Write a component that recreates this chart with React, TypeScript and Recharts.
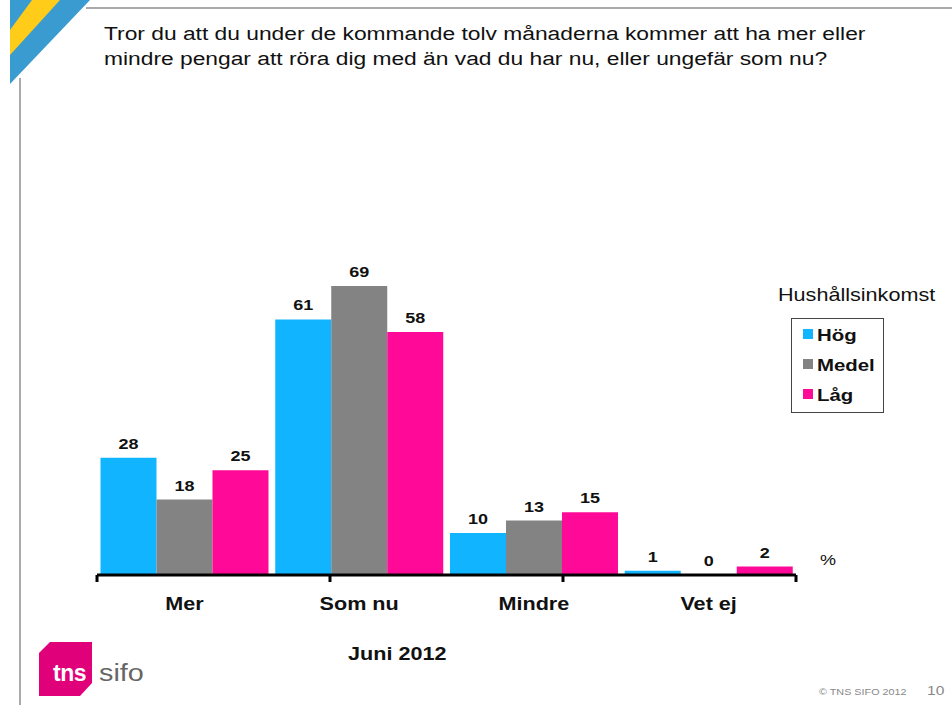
import { BarChart, Bar, XAxis, YAxis, LabelList, Legend } from "recharts";

const categories = ["Mer", "Som nu", "Mindre", "Vet ej"];
const hog = [28, 61, 10, 1];
const medel = [18, 69, 13, 0];
const lag = [25, 58, 15, 2];
const edgeTicks = [0, 1, 2, 3, 4];

const seriesInfo = [
  { key: "hog", name: "Hög", color: "#10B4FF" },
  { key: "medel", name: "Medel", color: "#838383" },
  { key: "lag", name: "Låg", color: "#FF0A98" },
];

const data = categories.map((c, i) => ({
  name: c,
  hog: hog[i],
  medel: medel[i],
  lag: lag[i],
}));

const font = "'Liberation Sans', Arial, sans-serif";
// the original slide is stretched sideways, so all text is too
const SX = 1.2;

const Stretched = ({ x, y, size, bold, fill = "#111", anchor = "start", children }: any) => (
  <text
    transform={`translate(${x},${y}) scale(${SX},1)`}
    fontSize={size}
    fontWeight={bold ? "bold" : "normal"}
    fill={fill}
    textAnchor={anchor}
    fontFamily={font}
  >
    {children}
  </text>
);

const CatTick = ({ x, y, payload }: any) => (
  <Stretched x={x} y={y + 34} size={18} bold anchor="middle">
    {payload.value}
  </Stretched>
);

const NoTick = () => <g />;

const ValueLabel = ({ x, y, width, value }: any) => (
  <Stretched x={x + width / 2} y={y - 9} size={15} bold anchor="middle">
    {value}
  </Stretched>
);

const LegendBox = () => (
  <svg width={160} height={130} style={{ overflow: "visible" }}>
    <Stretched x={-13} y={-17} size={18}>
      Hushållsinkomst
    </Stretched>
    <rect x={0.5} y={0.5} width={92} height={94} fill="none" stroke="#444" />
    {seriesInfo.map((s, i) => (
      <g key={s.key}>
        <rect x={12} y={11 + i * 30} width={10} height={10} fill={s.color} />
        <Stretched x={26} y={23 + i * 30} size={17} bold>
          {s.name}
        </Stretched>
      </g>
    ))}
  </svg>
);

const App = () => {
  return (
    <div
      style={{
        position: "absolute",
        left: 0,
        top: 0,
        width: 952,
        height: 705,
        background: "#fff",
        fontFamily: font,
        overflow: "hidden",
      }}
    >
      <svg
        width={952}
        height={705}
        style={{ position: "absolute", left: 0, top: 0 }}
      >
        <line x1={86} y1={8} x2={952} y2={8} stroke="#aaa" strokeWidth={2} />
        <line x1={20} y1={78} x2={20} y2={705} stroke="#aaa" strokeWidth={2} />
        <polygon points="10,0 90,0 10,84" fill="#3A9BD0" />
        <polygon points="32,0 60,0 10,55 10,30" fill="#FFCC1A" />
        <Stretched x={104} y={40} size={19}>
          Tror du att du under de kommande tolv månaderna kommer att ha mer eller
        </Stretched>
        <Stretched x={104} y={65} size={19}>
          mindre pengar att röra dig med än vad du har nu, eller ungefär som nu?
        </Stretched>
        <Stretched x={820} y={565} size={15}>
          %
        </Stretched>
        <Stretched x={348} y={660} size={18} bold>
          Juni 2012
        </Stretched>
        <polygon
          points="50,642 92,642 92,683 80,696 39,696 39,653"
          fill="#E0007A"
        />
        <text x={53} y={681} fontSize={23} fontWeight="bold" fill="#fff" fontFamily={font} letterSpacing={-0.5}>
          tns
        </text>
        <Stretched x={99} y={681} size={24} fill="#666">
          sifo
        </Stretched>
        <Stretched x={819} y={695} size={9} fill="#888">
          © TNS SIFO 2012
        </Stretched>
        <Stretched x={927} y={695} size={13} fill="#888">
          10
        </Stretched>
      </svg>
      <BarChart
        width={952}
        height={705}
        data={data}
        margin={{ top: 156, right: 156, bottom: 99, left: 97 }}
        barCategoryGap="2%"
        barGap={0}
        style={{ position: "absolute", left: 0, top: 0 }}
      >
        <XAxis
          xAxisId="b"
          dataKey="name"
          height={30}
          axisLine={false}
          tickLine={false}
          tickSize={0}
          tickMargin={0}
          tick={<CatTick />}
        />
        <XAxis
          xAxisId="a"
          type="number"
          domain={[0, 4]}
          ticks={edgeTicks}
          interval={0}
          height={1}
          tick={<NoTick />}
          tickSize={7}
          axisLine={{ stroke: "#000", strokeWidth: 3 }}
          tickLine={{ stroke: "#000", strokeWidth: 3 }}
          allowDataOverflow
        />
        <YAxis hide domain={[0, 100]} />
        <Legend
          layout="horizontal"
          verticalAlign="middle"
          align="center"
          content={<LegendBox />}
          wrapperStyle={{ left: 791, top: 318, width: 160 }}
        />
        {seriesInfo.map((s) => (
          <Bar
            key={s.key}
            xAxisId="b"
            dataKey={s.key}
            name={s.name}
            fill={s.color}
            minPointSize={0.01}
            isAnimationActive={false}
          >
            <LabelList dataKey={s.key} content={<ValueLabel />} />
          </Bar>
        ))}
      </BarChart>
    </div>
  );
};

export default App;
